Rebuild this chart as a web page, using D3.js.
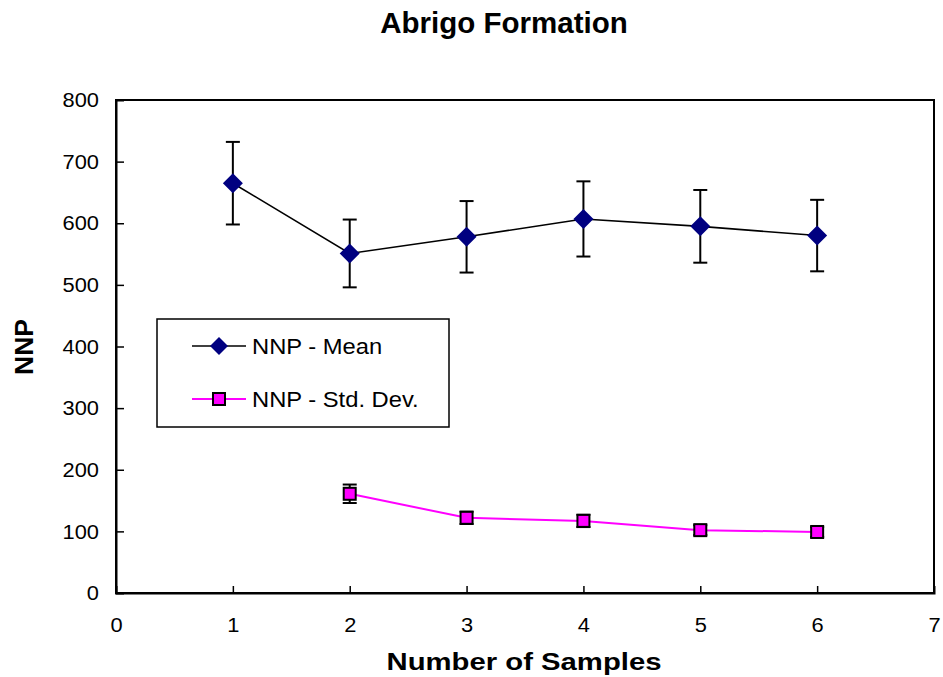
<!DOCTYPE html>
<html><head><meta charset="utf-8">
<script src="https://cdn.jsdelivr.net/npm/d3@7"></script>
<style>body{margin:0;background:#fff}svg{display:block}text{font-family:"Liberation Sans",Arial,sans-serif}</style>
</head><body><svg id="c" width="943" height="677"></svg>
<script>
const samples = [1, 2, 3, 4, 5, 6];
const meanValues = [665, 551, 578, 607, 595, 580];
const meanErr = [67, 55, 58, 61, 59, 58];
const stdSamples = [2, 3, 4, 5, 6];
const stdValues = [161, 122, 117, 102, 99];
const stdErr = [15, 10, 10, 8, 8];
const xTicks = [0, 1, 2, 3, 4, 5, 6, 7];
const yTicks = [0, 100, 200, 300, 400, 500, 600, 700, 800];
const seriesNames = ["NNP - Mean", "NNP - Std. Dev."];

const svg = d3.select("#c");
const L = 116, R = 934, T = 100, B = 593;
const x = d3.scaleLinear().domain([0, 7]).range([L, R]);
const y = d3.scaleLinear().domain([0, 800]).range([B, T]);
const FONT = '"Liberation Sans",Arial,sans-serif';

// frame
svg.append("rect").attr("x", L).attr("y", T).attr("width", R - L).attr("height", B - T)
  .attr("fill", "none").attr("stroke", "#000").attr("stroke-width", 2);

// axes (ticks inward)
const xAx = svg.append("g").attr("transform", `translate(0,${B})`)
  .call(d3.axisBottom(x).tickValues(xTicks).tickSize(-7).tickFormat(d3.format("d")));
const yAx = svg.append("g").attr("transform", `translate(${L},0)`)
  .call(d3.axisLeft(y).tickValues(yTicks).tickSize(-8).tickFormat(d3.format("d")));
[xAx, yAx].forEach(g => {
  g.select(".domain").attr("stroke", "#000").attr("stroke-width", 2);
  g.selectAll(".tick line").attr("stroke", "#000").attr("stroke-width", 1.5);
  g.selectAll(".tick text").attr("font-size", 19.5).attr("fill", "#000").style("font-family", FONT);
});
xAx.selectAll(".tick text").attr("y", 0).attr("dy", "0.71em")
  .attr("transform", "translate(0,25) scale(1.12,1)");
yAx.selectAll(".tick text").attr("x", 0).attr("dy", "0.34em")
  .attr("transform", "translate(-17,0) scale(1.12,1)");
xAx.selectAll(".tick line").filter(d => d === 0 || d === 7).remove();
yAx.selectAll(".tick line").filter(d => d === 0 || d === 800).remove();

// titles
svg.append("text").attr("x", 504).attr("y", 33).attr("text-anchor", "middle")
  .attr("font-size", 29.5).attr("font-weight", "bold").text("Abrigo Formation");
svg.append("text").attr("transform", "translate(524,670) scale(1.22,1)").attr("text-anchor", "middle")
  .attr("font-size", 24).attr("font-weight", "bold").text("Number of Samples");
svg.append("text").attr("transform", "translate(33,347) rotate(-90)").attr("text-anchor", "middle")
  .attr("font-size", 26.5).attr("font-weight", "bold").text("NNP");

const meanData = samples.map((s, i) => ({x: s, y: meanValues[i], e: meanErr[i]}));
const stdData = stdSamples.map((s, i) => ({x: s, y: stdValues[i], e: stdErr[i]}));

function errorBars(data, cap) {
  const g = svg.append("g").attr("stroke", "#000").attr("stroke-width", 2);
  data.forEach(d => {
    g.append("line").attr("x1", x(d.x)).attr("x2", x(d.x)).attr("y1", y(d.y + d.e)).attr("y2", y(d.y - d.e));
    [d.y + d.e, d.y - d.e].forEach(v => g.append("line")
      .attr("x1", x(d.x) - cap).attr("x2", x(d.x) + cap).attr("y1", y(v)).attr("y2", y(v)));
  });
}
const line = d3.line().x(d => x(d.x)).y(d => y(d.y));

// mean series
svg.append("path").datum(meanData).attr("d", line).attr("fill", "none").attr("stroke", "#000").attr("stroke-width", 1.6);
errorBars(meanData, 7);
const diamond = s => `M0,${-s}L${s},0L0,${s}L${-s},0Z`;
svg.selectAll(".dm").data(meanData).enter().append("path")
  .attr("transform", d => `translate(${x(d.x)},${y(d.y)})`).attr("d", diamond(10)).attr("fill", "#000080");

// std series
svg.append("path").datum(stdData).attr("d", line).attr("fill", "none").attr("stroke", "#FF00FF").attr("stroke-width", 2);
errorBars(stdData, 7);
svg.selectAll(".sq").data(stdData).enter().append("rect")
  .attr("x", d => x(d.x) - 6).attr("y", d => y(d.y) - 6).attr("width", 12).attr("height", 12)
  .attr("fill", "#FF00FF").attr("stroke", "#000").attr("stroke-width", 2);

// legend
const lg = svg.append("g");
lg.append("rect").attr("x", 157).attr("y", 319).attr("width", 292).attr("height", 108)
  .attr("fill", "#fff").attr("stroke", "#000").attr("stroke-width", 1.5);
const rows = [346, 399];
lg.append("line").attr("x1", 192).attr("x2", 246).attr("y1", rows[0]).attr("y2", rows[0]).attr("stroke", "#000").attr("stroke-width", 1.6);
lg.append("path").attr("transform", `translate(219,${rows[0]})`).attr("d", diamond(9)).attr("fill", "#000080");
lg.append("line").attr("x1", 192).attr("x2", 246).attr("y1", rows[1]).attr("y2", rows[1]).attr("stroke", "#FF00FF").attr("stroke-width", 2);
lg.append("rect").attr("x", 213).attr("y", rows[1] - 6).attr("width", 12).attr("height", 12)
  .attr("fill", "#FF00FF").attr("stroke", "#000").attr("stroke-width", 2);
seriesNames.forEach((n, i) => lg.append("text")
  .attr("transform", `translate(252,${rows[i] + 8}) scale(1.08,1)`)
  .attr("font-size", 22).text(n));
</script></body></html>
